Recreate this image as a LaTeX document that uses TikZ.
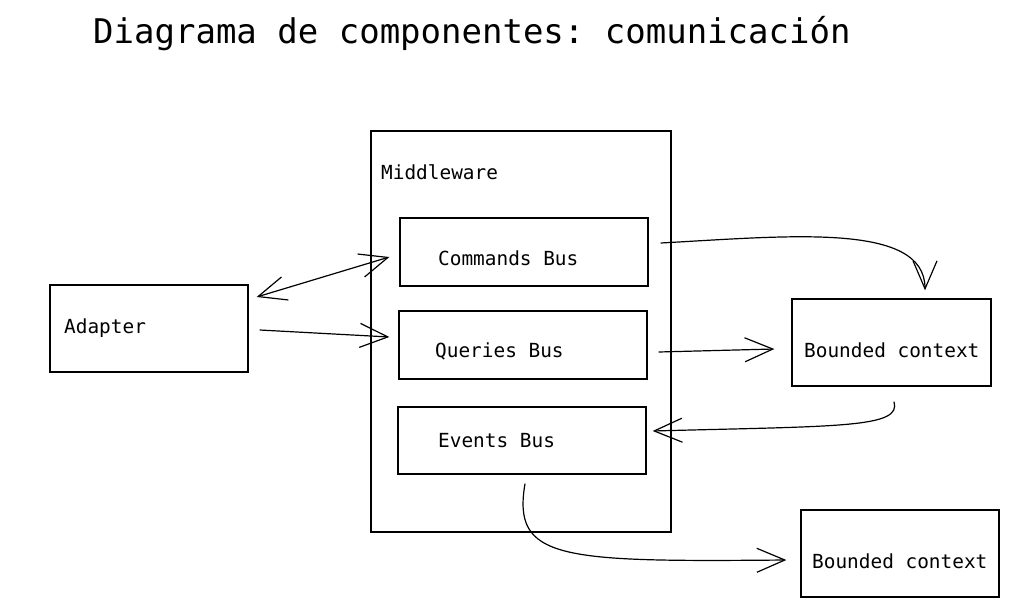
\documentclass[tikz,border=0pt]{standalone}
\usepackage{fontspec}
\setmonofont{DejaVu Sans Mono}
\usetikzlibrary{arrows.meta,calc}
\begin{document}
\begin{tikzpicture}[x=1pt,y=-1pt,
  box/.style={draw=black,line width=1.3pt,inner sep=0pt},
  lbl/.style={anchor=base west,inner sep=0pt,font=\ttfamily\fontsize{19.4}{22}\selectfont},
  conn/.style={draw=black,line width=1.2pt,-{Straight Barb[length=28pt,width=24pt,line width=1.2pt]}},
  conn2/.style={draw=black,line width=1.2pt,{Straight Barb[length=28pt,width=24pt,line width=1.2pt]}-{Straight Barb[length=28pt,width=24pt,line width=1.2pt]}}]
\useasboundingbox (0,0) rectangle (1009,607);
% title
\node[anchor=base west,inner sep=0pt,font=\ttfamily\fontsize{34}{40}\selectfont] (title) at (93,44) {Diagrama de componentes: comunicación};
% boxes
\node[box,minimum width=300pt,minimum height=401pt] (mw) at (521,331.5) {};
\node[box,minimum width=248pt,minimum height=68pt] (cmd) at (524,252) {};
\node[box,minimum width=248pt,minimum height=68pt] (qry) at (523,345) {};
\node[box,minimum width=248pt,minimum height=67pt] (evt) at (522,440.5) {};
\node[box,minimum width=198pt,minimum height=87pt] (adp) at (149,328.5) {};
\node[box,minimum width=199pt,minimum height=87pt] (bc1) at (891.5,342.5) {};
\node[box,minimum width=198pt,minimum height=87pt] (bc2) at (900,553.5) {};
% labels
\node[lbl] (mwl) at (381,179) {Middleware};
\node[lbl] (cmdl) at (438,265) {Commands Bus};
\node[lbl] (qryl) at (435,357) {Queries Bus};
\node[lbl] (evtl) at (438,447) {Events Bus};
\node[lbl] (adpl) at (64,333) {Adapter};
\node[lbl] (bc1l) at (804,357) {Bounded context};
\node[lbl] (bc2l) at (812,568) {Bounded context};
% connector end points
\coordinate (a1) at ($(adp.east)+(8,-31.5)$);
\coordinate (c1) at ($(cmd.west)+(-10,5)$);
\coordinate (a2) at ($(adp.east)+(11,1.5)$);
\coordinate (q1) at ($(qry.west)+(-9,-8)$);
\coordinate (c2) at ($(cmd.east)+(12,-9)$);
\coordinate (b1t) at ($(bc1.north)+(33.5,-8)$);
\coordinate (q2) at ($(qry.east)+(11,7)$);
\coordinate (b1w) at ($(bc1.west)+(-17,6.5)$);
\coordinate (b1s) at ($(bc1.south)+(2.5,15)$);
\coordinate (e1) at ($(evt.east)+(6,-9.5)$);
\coordinate (e2) at ($(evt.south)+(3,9)$);
\coordinate (b2w) at ($(bc2.west)+(-14,6.5)$);
% connectors
\draw[conn2] (a1) -- (c1);
\draw[conn] (a2) -- (q1);
\draw[conn] (c2) .. controls (790,236) and (925,222) .. (b1t);
\draw[conn] (q2) -- (b1w);
\draw[conn] (b1s) .. controls (902,428) and (840,426) .. (e1);
\draw[conn] (e2) .. controls (512,560) and (560,562) .. (b2w);
\end{tikzpicture}
\end{document}
